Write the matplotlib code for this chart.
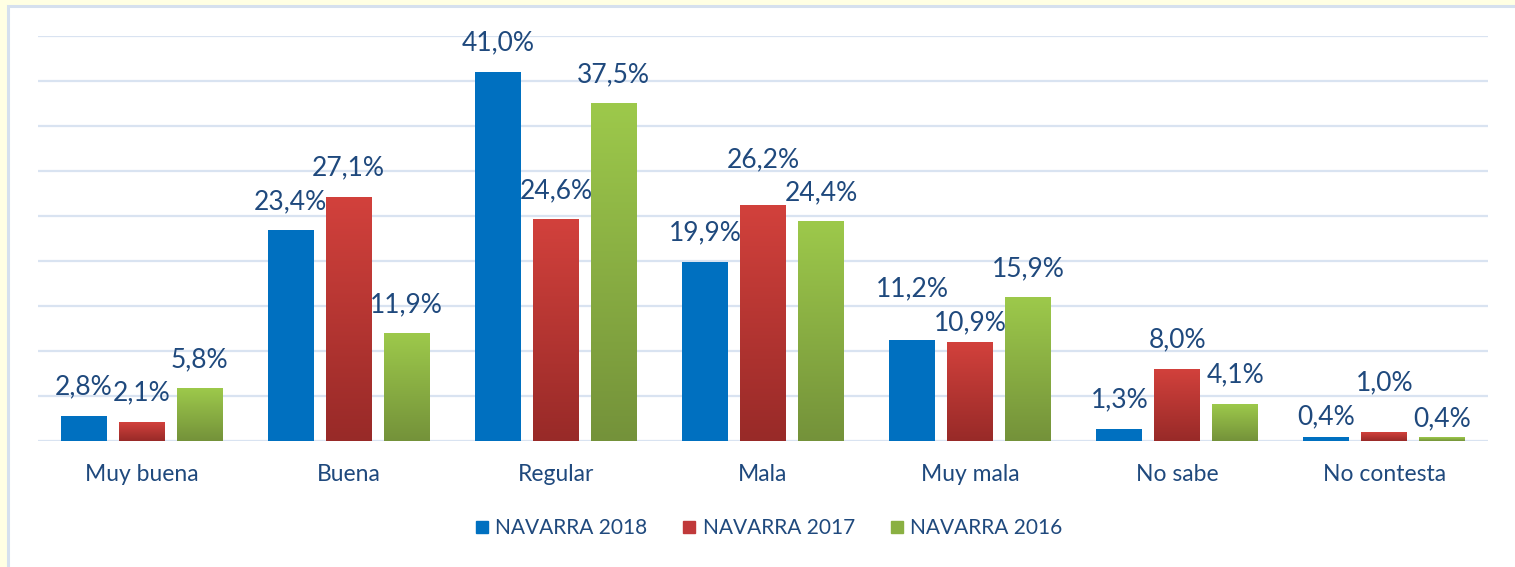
import numpy as np
import matplotlib.pyplot as plt
from matplotlib.colors import LinearSegmentedColormap
from matplotlib.patches import Rectangle
from matplotlib.lines import Line2D

categories = ["Muy buena", "Buena", "Regular", "Mala", "Muy mala", "No sabe", "No contesta"]
series_names = ["NAVARRA 2018", "NAVARRA 2017", "NAVARRA 2016"]
v2018 = [2.8, 23.4, 41.0, 19.9, 11.2, 1.3, 0.4]
v2017 = [2.1, 27.1, 24.6, 26.2, 10.9, 8.0, 1.0]
v2016 = [5.8, 11.9, 37.5, 24.4, 15.9, 4.1, 0.4]

# desplazamiento extra (px) de algunas etiquetas, movidas a mano en el original
extra = [[0, 0, 0, 0, 22, 0, -8],
         [0, 0, 0, 16, -9, 0, 20],
         [0, 0, 0, 0, 0, 0, -10]]

# colores: (arriba, abajo) para el degradado
colores = [("#0070C0", "#0070C0"),
           ("#D2413C", "#982A28"),
           ("#9DC94B", "#74923A")]
legend_cols = ["#0070C0", "#C0393A", "#8AB042"]

txt_col = "#1F497D"
font = "Lato"

fig = plt.figure(figsize=(15.15, 5.67), dpi=100)
fig.patch.set_facecolor("#FFFFE3")

# recuadro blanco del gráfico
fig.patches.append(Rectangle((8 / 1515, -0.1), 1.2, (567 - 6) / 567 + 0.1,
                             transform=fig.transFigure, facecolor="white",
                             edgecolor="#D5E0EE", linewidth=2.2, zorder=-5))

ax = fig.add_axes([38 / 1515, (567 - 441) / 567, (1488 - 38) / 1515, (441 - 36) / 567])
ax.set_facecolor("none")

x = np.arange(len(categories))
w = 0.222
offs = [-0.28, 0, 0.28]
grad = np.linspace(0, 1, 256).reshape(-1, 1)

for i, vals in enumerate([v2018, v2017, v2016]):
    top, bot = colores[i]
    cmap = LinearSegmentedColormap.from_list("g%d" % i, [bot, top])
    for j, (xi, v) in enumerate(zip(x, vals)):
        x0 = xi + offs[i] - w / 2
        if top == bot:
            ax.bar(xi + offs[i], v, w, color=top, zorder=3)
        else:
            ax.imshow(grad, extent=[x0, x0 + w, 0, v], origin="lower", cmap=cmap,
                      aspect="auto", zorder=3, interpolation="bilinear")
        dy = (29 + extra[i][j]) * 0.72
        ax.annotate(f"{v:.1f}%".replace(".", ","), (xi + offs[i], v),
                    xytext=(0, dy), textcoords="offset points", ha="center", va="center",
                    fontsize=19, color=txt_col, family=font, zorder=5)

ax.set_xlim(-0.5, len(categories) - 0.5)
ax.set_ylim(0, 45)
ax.set_yticks(np.arange(0, 46, 5))
ax.yaxis.grid(True, color="#D9E3F1", linewidth=1.6, zorder=0)
ax.set_axisbelow(True)
ax.tick_params(axis="y", left=False, labelleft=False)
ax.tick_params(axis="x", bottom=False, pad=13)
ax.set_xticks(x)
ax.set_xticklabels(categories, fontsize=16.5, color=txt_col, family=font)
for s in ax.spines.values():
    s.set_visible(False)

handles = [Line2D([], [], marker="s", linestyle="none", markersize=9,
                  markerfacecolor=c, markeredgecolor=c) for c in legend_cols]
fig.legend(handles, series_names, loc="center", bbox_to_anchor=(767 / 1515, 1 - 528 / 567),
           ncol=3, frameon=False, handletextpad=0.15, columnspacing=1.5, handlelength=1.0,
           prop={"family": font, "size": 15}, labelcolor=txt_col)

fig.savefig("out.png", dpi=100, facecolor=fig.get_facecolor())
